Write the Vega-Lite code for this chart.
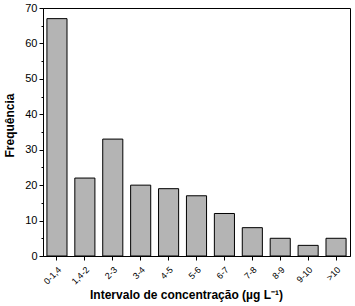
{
  "$schema": "https://vega.github.io/schema/vega-lite/v6.json",
  "width": 307,
  "height": 248,
  "autosize": {"type": "none"},
  "padding": {"left": 43, "top": 8, "right": 5, "bottom": 50},
  "background": "white",
  "config": {
    "font": "Liberation Sans",
    "view": {"stroke": "black", "strokeWidth": 1}
  },
  "data": {
    "values": [
      {"intervalo": "0-1,4", "freq": 67},
      {"intervalo": "1,4-2", "freq": 22},
      {"intervalo": "2-3", "freq": 33},
      {"intervalo": "3-4", "freq": 20},
      {"intervalo": "4-5", "freq": 19},
      {"intervalo": "5-6", "freq": 17},
      {"intervalo": "6-7", "freq": 12},
      {"intervalo": "7-8", "freq": 8},
      {"intervalo": "8-9", "freq": 5},
      {"intervalo": "9-10", "freq": 3},
      {"intervalo": ">10", "freq": 5}
    ]
  },
  "mark": {"type": "bar", "fill": "#b4b4b4", "stroke": "black", "strokeWidth": 1},
  "encoding": {
    "x": {
      "field": "intervalo",
      "type": "ordinal",
      "sort": null,
      "scale": {"paddingInner": 0.28, "paddingOuter": 0.14},
      "axis": {
        "title": "Intervalo de concentração (µg L⁻¹)",
        "titleFontSize": 12,
        "titleFontWeight": "bold",
        "titleColor": "black",
        "titlePadding": 4,
        "titleX": 143,
        "labelAngle": -45,
        "labelFontSize": 9,
        "labelColor": "black",
        "labelPadding": 5,
        "domainColor": "black",
        "tickColor": "black",
        "tickSize": 4,
        "grid": false
      }
    },
    "y": {
      "field": "freq",
      "type": "quantitative",
      "scale": {"domain": [0, 70], "nice": false},
      "axis": {
        "title": "Frequência",
        "titleFontSize": 12,
        "titleFontWeight": "bold",
        "titleColor": "black",
        "titlePadding": 8,
        "titleY": 117,
        "values": [0, 5, 10, 15, 20, 25, 30, 35, 40, 45, 50, 55, 60, 65, 70],
        "labelExpr": "datum.value % 10 == 0 ? datum.label : ''",
        "labelFontSize": 11,
        "labelColor": "black",
        "labelPadding": 2,
        "domainColor": "black",
        "tickColor": "black",
        "tickSize": {"condition": {"test": "datum.value % 10 == 0", "value": 4}, "value": 2},
        "grid": false
      }
    }
  }
}
